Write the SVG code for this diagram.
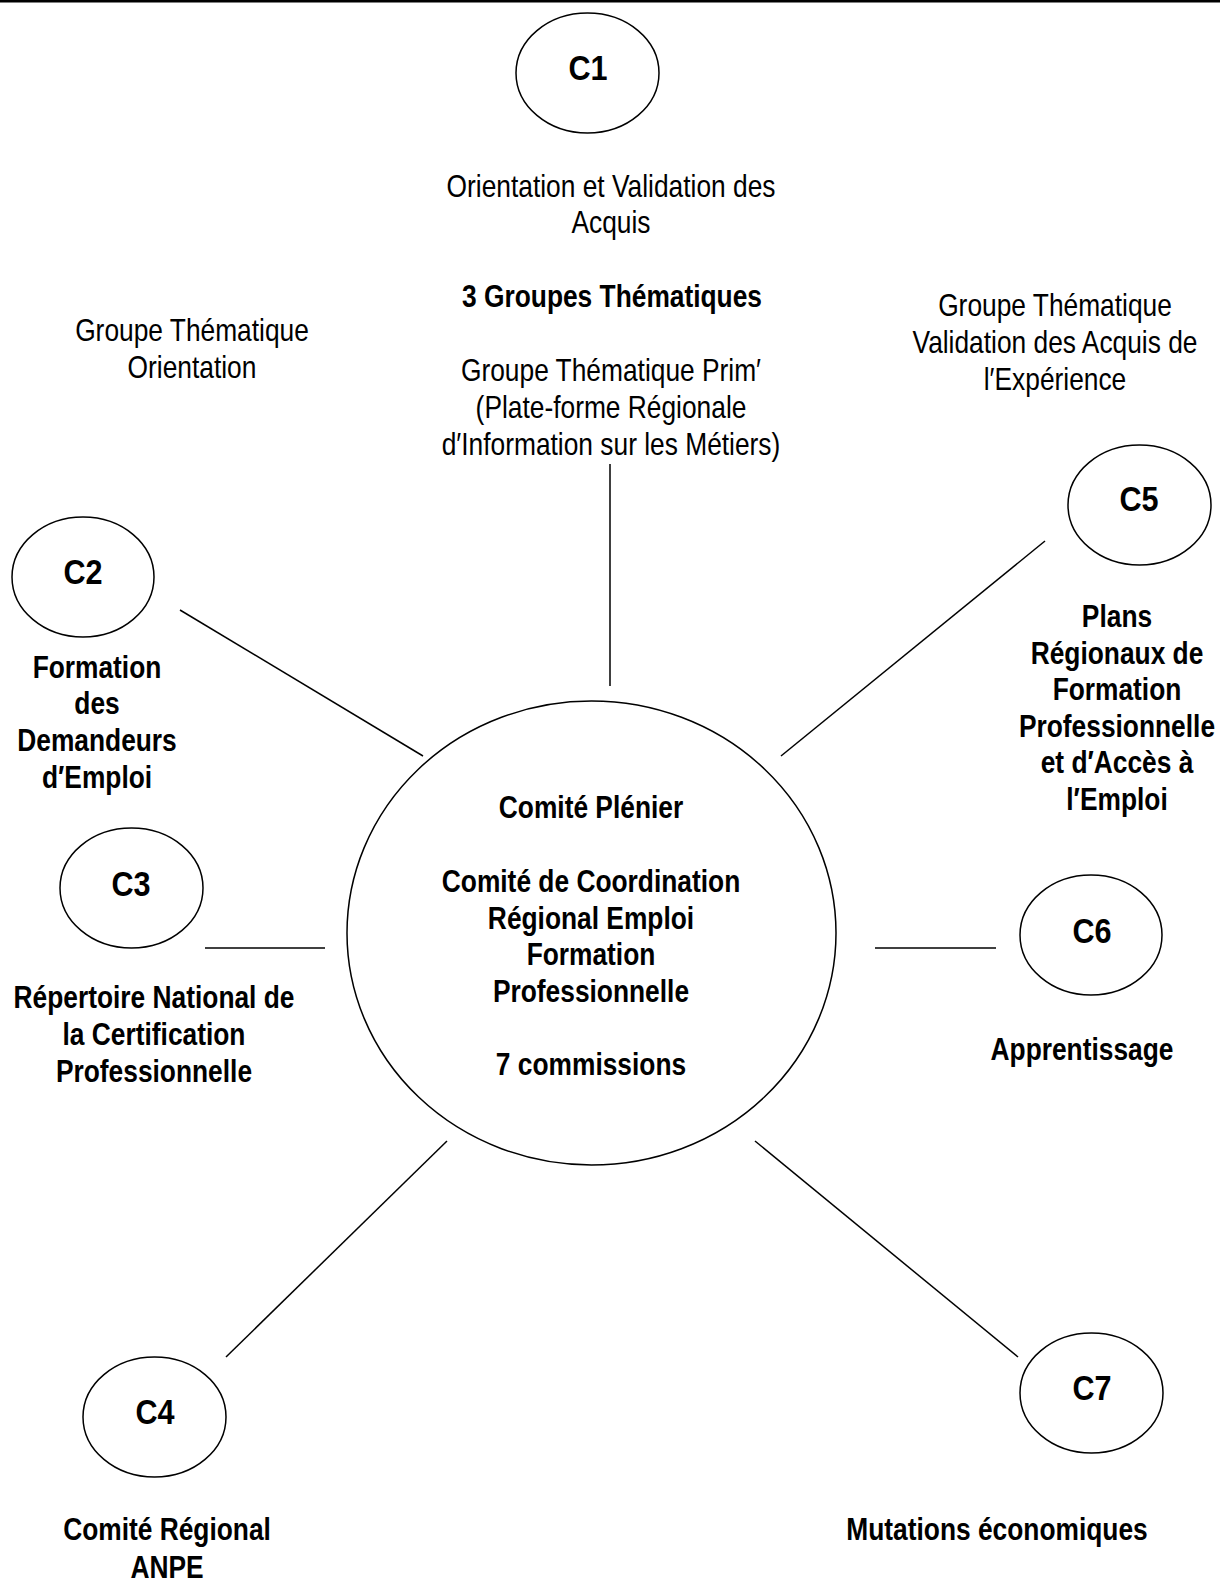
<svg xmlns="http://www.w3.org/2000/svg" width="1220" height="1581" viewBox="0 0 1220 1581">
<style>
text{font-family:"Liberation Sans Narrow","Liberation Sans",Arial,sans-serif;fill:#000;text-anchor:middle}
.r{font-size:31px}
.b{font-size:31px;font-weight:bold}
.c{font-size:36px;font-weight:bold}
ellipse{fill:#fff;stroke:#000;stroke-width:1.5}
line{stroke:#000;stroke-width:1.5}
</style>
<rect x="0" y="0" width="1220" height="2.5" fill="#000"/>
<g id="connectors">
<line x1="610" y1="464" x2="610" y2="686"/>
<line x1="180" y1="610" x2="423" y2="756"/>
<line x1="1045" y1="541" x2="781" y2="756"/>
<line x1="205" y1="948" x2="325" y2="948"/>
<line x1="875" y1="948" x2="996" y2="948"/>
<line x1="447" y1="1141" x2="226" y2="1357"/>
<line x1="755" y1="1141" x2="1018" y2="1357"/>
</g>
<g id="center">
<ellipse cx="591.5" cy="933" rx="244.5" ry="232"/>
<text class="b" transform="translate(591,818) scale(0.85,1)">Comité Plénier</text>
<text class="b" transform="translate(591,892) scale(0.85,1)">Comité de Coordination</text>
<text class="b" transform="translate(591,929) scale(0.85,1)">Régional Emploi</text>
<text class="b" transform="translate(591,965) scale(0.85,1)">Formation</text>
<text class="b" transform="translate(591,1002) scale(0.85,1)">Professionnelle</text>
<text class="b" transform="translate(591,1075) scale(0.85,1)">7 commissions</text>
</g>
<g id="c1">
<ellipse cx="587.5" cy="73" rx="71.5" ry="60"/>
<text class="c" transform="translate(588,80) scale(0.85,1)">C1</text>
<text class="r" transform="translate(611,197) scale(0.85,1)">Orientation et Validation des</text>
<text class="r" transform="translate(611,233) scale(0.85,1)">Acquis</text>
<text class="b" transform="translate(612,307) scale(0.85,1)">3 Groupes Thématiques</text>
<text class="r" transform="translate(611,381) scale(0.85,1)">Groupe Thématique Prim′</text>
<text class="r" transform="translate(611,418) scale(0.85,1)">(Plate-forme Régionale</text>
<text class="r" transform="translate(611,455) scale(0.85,1)">d′Information sur les Métiers)</text>
</g>
<g id="gt-orientation">
<text class="r" transform="translate(192,341) scale(0.85,1)">Groupe Thématique</text>
<text class="r" transform="translate(192,378) scale(0.85,1)">Orientation</text>
</g>
<g id="gt-vae">
<text class="r" transform="translate(1055,316) scale(0.85,1)">Groupe Thématique</text>
<text class="r" transform="translate(1055,353) scale(0.85,1)">Validation des Acquis de</text>
<text class="r" transform="translate(1055,390) scale(0.85,1)">l′Expérience</text>
</g>
<g id="c2">
<ellipse cx="83" cy="577" rx="71" ry="60"/>
<text class="c" transform="translate(83,584) scale(0.85,1)">C2</text>
<text class="b" transform="translate(97,678) scale(0.85,1)">Formation</text>
<text class="b" transform="translate(97,714) scale(0.85,1)">des</text>
<text class="b" transform="translate(97,751) scale(0.85,1)">Demandeurs</text>
<text class="b" transform="translate(97,788) scale(0.85,1)">d′Emploi</text>
</g>
<g id="c3">
<ellipse cx="131.5" cy="888" rx="71.5" ry="60"/>
<text class="c" transform="translate(131,896) scale(0.85,1)">C3</text>
<text class="b" transform="translate(154,1008) scale(0.85,1)">Répertoire National de</text>
<text class="b" transform="translate(154,1045) scale(0.85,1)">la Certification</text>
<text class="b" transform="translate(154,1082) scale(0.85,1)">Professionnelle</text>
</g>
<g id="c4">
<ellipse cx="154.5" cy="1417" rx="71.5" ry="60"/>
<text class="c" transform="translate(155,1424) scale(0.85,1)">C4</text>
<text class="b" transform="translate(167,1540) scale(0.85,1)">Comité Régional</text>
<text class="b" transform="translate(167,1578) scale(0.85,1)">ANPE</text>
</g>
<g id="c5">
<ellipse cx="1139.5" cy="505" rx="71.5" ry="60"/>
<text class="c" transform="translate(1139,511) scale(0.85,1)">C5</text>
<text class="b" transform="translate(1117,627) scale(0.85,1)">Plans</text>
<text class="b" transform="translate(1117,664) scale(0.85,1)">Régionaux de</text>
<text class="b" transform="translate(1117,700) scale(0.85,1)">Formation</text>
<text class="b" transform="translate(1117,737) scale(0.85,1)">Professionnelle</text>
<text class="b" transform="translate(1117,773) scale(0.85,1)">et d′Accès à</text>
<text class="b" transform="translate(1117,810) scale(0.85,1)">l′Emploi</text>
</g>
<g id="c6">
<ellipse cx="1091" cy="935" rx="71" ry="60"/>
<text class="c" transform="translate(1092,943) scale(0.85,1)">C6</text>
<text class="b" transform="translate(1082,1060) scale(0.85,1)">Apprentissage</text>
</g>
<g id="c7">
<ellipse cx="1091.5" cy="1393" rx="71.5" ry="60"/>
<text class="c" transform="translate(1092,1400) scale(0.85,1)">C7</text>
<text class="b" transform="translate(997,1540) scale(0.85,1)">Mutations économiques</text>
</g>
</svg>
